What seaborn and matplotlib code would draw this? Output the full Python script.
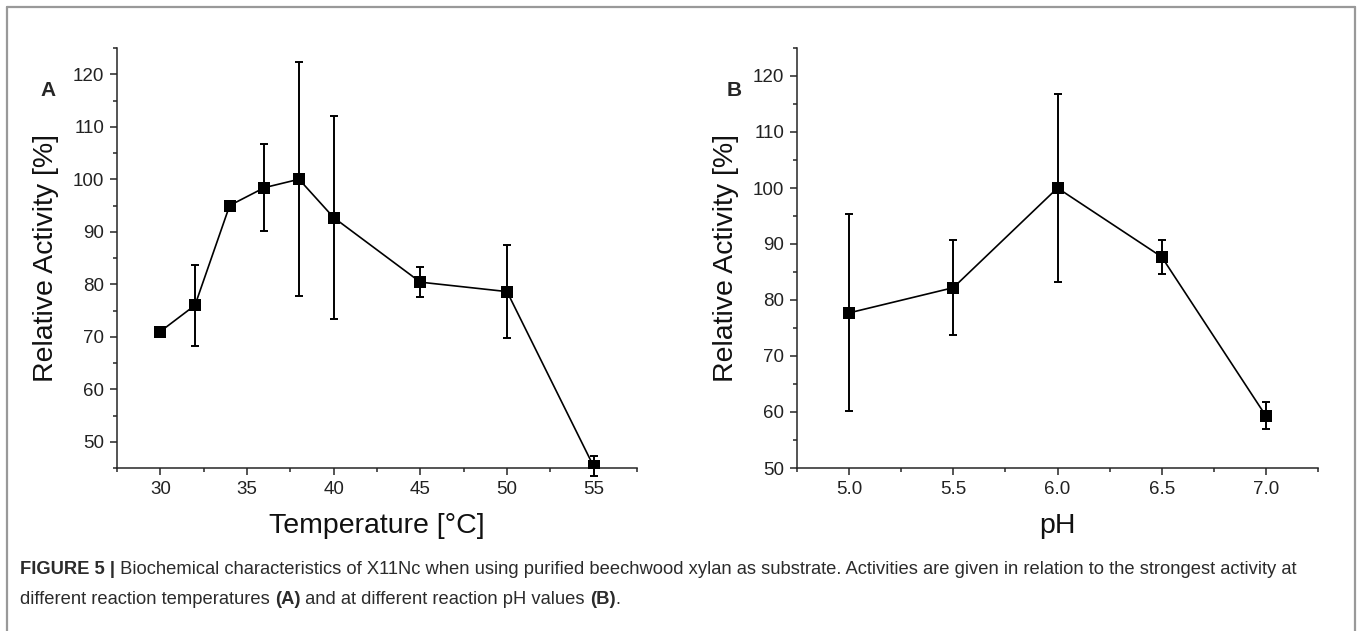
import numpy as np
import pandas as pd
import matplotlib
matplotlib.use('Agg')
import matplotlib.pyplot as plt
from matplotlib.ticker import MultipleLocator
from matplotlib.lines import Line2D
import seaborn as sns

# Panel A: temperature
temp_c = [30, 32, 34, 36, 38, 40, 45, 50, 55]
temp_act = [71.0, 76.0, 95.0, 98.4, 100.0, 92.7, 80.4, 78.6, 45.3]
temp_err = [0.5, 7.7, 0.6, 8.3, 22.3, 19.4, 2.8, 8.8, 1.9]

# Panel B: pH
ph_vals = [5.0, 5.5, 6.0, 6.5, 7.0]
ph_act = [77.7, 82.2, 100.0, 87.7, 59.3]
ph_err = [17.6, 8.5, 16.7, 3.0, 2.4]

caption_1 = [("FIGURE 5 |", "bold"),
             (" Biochemical characteristics of X11Nc when using purified beechwood xylan as substrate. "
              "Activities are given in relation to the strongest activity at", "normal")]
caption_2 = [("different reaction temperatures ", "normal"), ("(A)", "bold"),
             (" and at different reaction pH values ", "normal"), ("(B)", "bold"), (".", "normal")]

sns.set_style("ticks")
plt.rcParams['font.family'] = ['Liberation Sans', 'DejaVu Sans']
plt.rcParams['axes.linewidth'] = 1.1
plt.rcParams['xtick.major.size'] = 5
plt.rcParams['ytick.major.size'] = 5
plt.rcParams['xtick.minor.size'] = 3
plt.rcParams['ytick.minor.size'] = 3
plt.rcParams['xtick.direction'] = 'out'
plt.rcParams['ytick.direction'] = 'out'

W, H = 1363, 631
fig = plt.figure(figsize=(W / 100, H / 100), dpi=100)


def panel(rect, x, y, err, xlim, ylim, xticks, xminor, xlabel, xfmt):
    ax = fig.add_axes(rect)
    df = pd.DataFrame({'x': x, 'y': y})
    sns.lineplot(data=df, x='x', y='y', ax=ax, color='black', linewidth=1.2,
                 marker='s', markersize=8.5, markeredgewidth=0, zorder=3)
    ax.errorbar(x, y, yerr=err, fmt='none', ecolor='black', elinewidth=1.4,
                capsize=3, capthick=1.4, clip_on=False, zorder=2)
    ax.set_xlim(*xlim)
    ax.set_ylim(*ylim)
    ax.set_xticks(xticks)
    ax.xaxis.set_major_formatter(xfmt)
    ax.xaxis.set_minor_locator(MultipleLocator(xminor))
    ax.yaxis.set_major_locator(MultipleLocator(10))
    ax.yaxis.set_minor_locator(MultipleLocator(5))
    ax.tick_params(labelsize=13.5, labelcolor='#222222', width=1.1, pad=4)
    ax.tick_params(which='minor', width=1.1)
    ax.set_xlabel(xlabel, fontsize=20.5, labelpad=11, color='#111111')
    ax.set_ylabel('Relative Activity [%]', fontsize=20.5, labelpad=10, color='#111111')
    sns.despine(ax=ax)
    ax.patch.set_alpha(0)
    return ax


axA = panel([117 / W, 1 - 468 / H, 520 / W, 420 / H], temp_c, temp_act, temp_err,
            (27.5, 57.5), (45, 125), [30, 35, 40, 45, 50, 55], 2.5,
            'Temperature [°C]', '{x:.0f}')
axB = panel([797 / W, 1 - 468 / H, 521 / W, 420 / H], ph_vals, ph_act, ph_err,
            (4.75, 7.25), (50, 125), ph_vals, 0.25, 'pH', '{x:.1f}')
axA.set_yticks([50, 60, 70, 80, 90, 100, 110, 120])

fig.text(40 / W, 1 - 91 / H, 'A', fontsize=15, weight='bold', va='center')
fig.text(727 / W, 1 - 91 / H, 'B', fontsize=15, weight='bold', va='center')

# frame around figure (open at the bottom)
for xs, ys in [([7, 7], [631, 7]), ([7, 1355], [7, 7]), ([1355, 1355], [7, 631])]:
    fig.add_artist(Line2D([v / W for v in xs], [1 - v / H for v in ys],
                          color='#999999', linewidth=1.6))

# caption with mixed bold/regular runs
renderer = fig.canvas.get_renderer()


def rich_line(parts, x0, y0):
    x = x0
    for s, w in parts:
        t = fig.text(x / W, 1 - y0 / H, s, fontsize=13.2, weight=w, color='#2b2b2b', va='center')
        bb = t.get_window_extent(renderer=renderer)
        x += bb.width


rich_line(caption_1, 20, 569)
rich_line(caption_2, 20, 599)

fig.savefig('out.png', dpi=100)
